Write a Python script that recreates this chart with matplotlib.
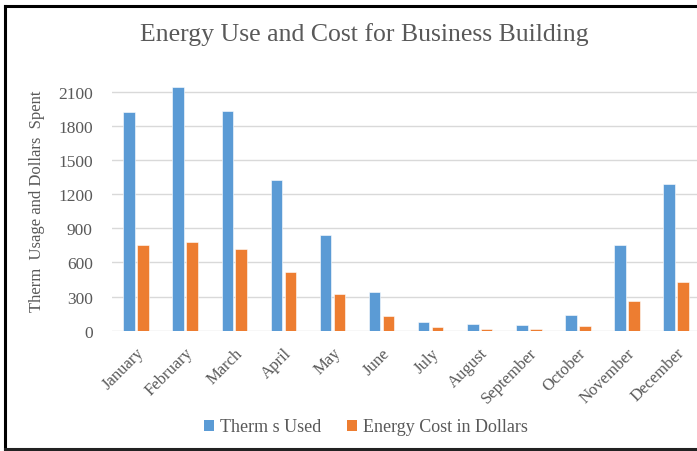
import matplotlib
matplotlib.use("Agg")
import matplotlib.pyplot as plt
import numpy as np
from matplotlib.lines import Line2D
from matplotlib.patches import Patch

months = ["January", "February", "March", "April", "May", "June", "July",
          "August", "September", "October", "November", "December"]
therms_used = [1920, 2140, 1930, 1320, 845, 340, 75, 60, 50, 140, 750, 1290]
energy_cost = [750, 780, 715, 520, 325, 130, 30, 15, 15, 40, 260, 430]
y_ticks = [0, 300, 600, 900, 1200, 1500, 1800, 2100]

BLUE = "#5B9BD5"
ORANGE = "#ED7D31"
GRAY = "#595959"
SERIF = ["Liberation Serif", "DejaVu Serif"]

W, H = 697, 452
fig = plt.figure(figsize=(W / 100, H / 100), dpi=100)

def fx(px):
    return px / W

def fy(py):
    return 1 - py / H

ax_left, ax_right = 111.5, 697
ax_top, ax_bottom = 85.9, 331.7
ax = fig.add_axes([fx(ax_left), fy(ax_bottom), fx(ax_right - ax_left), (ax_bottom - ax_top) / H])

x = np.arange(len(months))
bw = 0.235
off = 0.142
ax.bar(x - off, therms_used, bw, color=BLUE, edgecolor="white", linewidth=0.4, zorder=3)
ax.bar(x + off, energy_cost, bw, color=ORANGE, edgecolor="white", linewidth=0.4, zorder=3)

ax.set_xlim(-0.5, -0.5 + (ax_right - ax_left) / 49.1)
ax.set_ylim(0, 2160)
ax.set_yticks(y_ticks)
ax.set_yticklabels([str(v) for v in y_ticks], fontfamily=SERIF, fontsize=12.5, color=GRAY)
ax.yaxis.grid(True, color="#D9D9D9", linewidth=1.0, zorder=0)
ax.set_axisbelow(True)
for s in ax.spines.values():
    s.set_visible(False)
ax.tick_params(axis="y", length=0, pad=13.5)
ax.tick_params(axis="x", length=0, pad=10)
ax.set_xticks(x)
ax.set_xticklabels(months, rotation=45, ha="right", va="top", rotation_mode="anchor",
                   fontfamily=SERIF, fontsize=12, color=GRAY)

fig.text(fx(37), fy(201), "Therm  Usage and Dollars  Spent", rotation=90, ha="center", va="center",
         fontfamily=SERIF, fontsize=12, color=GRAY)
fig.text(fx(364), fy(35), "Energy Use and Cost for Business Building", ha="center", va="center",
         fontfamily=SERIF, fontsize=18.5, color=GRAY)

handles = [Patch(facecolor=BLUE, label="Therm s Used"),
           Patch(facecolor=ORANGE, label="Energy Cost in Dollars")]
fig.legend(handles=handles, loc="center", bbox_to_anchor=(fx(366), fy(428)), ncol=2, frameon=False,
           prop={"family": SERIF, "size": 13}, labelcolor=GRAY, handlelength=0.55, handleheight=0.55,
           handletextpad=0.35, columnspacing=1.4)

# figure border (left, top, bottom; right edge cropped)
fig.add_artist(Line2D([fx(4.5), fx(4.5)], [fy(6.5), fy(450)], color="black", linewidth=2.2))
fig.add_artist(Line2D([fx(4.5), fx(697)], [fy(6.5), fy(6.5)], color="black", linewidth=2.2))
fig.add_artist(Line2D([fx(4.5), fx(697)], [fy(450), fy(450)], color="#222222", linewidth=2.2))

fig.savefig("out.png", dpi=100)
